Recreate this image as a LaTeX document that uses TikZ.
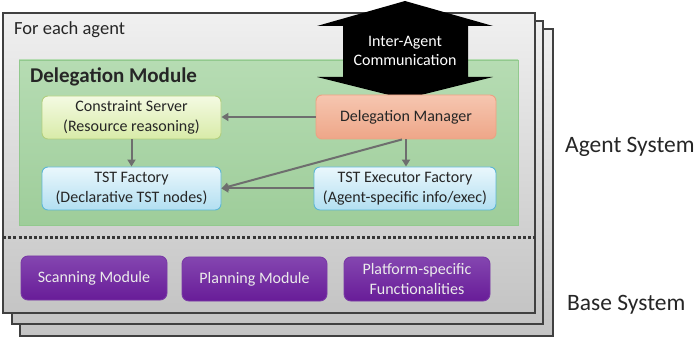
\documentclass[tikz,border=0pt]{standalone}
\usepackage{fontspec}
\setmainfont{Carlito}
\usetikzlibrary{arrows.meta}
\definecolor{framedraw}{HTML}{404040}
\definecolor{txt}{HTML}{262626}
\definecolor{arr}{HTML}{6E6E6E}
\definecolor{frametop}{HTML}{F0F0F0}
\definecolor{framebot}{HTML}{C4C4C4}
\definecolor{yellowgreen}{HTML}{B2CF7E}
\definecolor{yelltop}{HTML}{F4FAE2}
\definecolor{yellbot}{HTML}{D8EBA8}
\definecolor{bluedraw}{HTML}{5DB6D6}
\definecolor{bluetop}{HTML}{EAF7FC}
\definecolor{bluebot}{HTML}{B2DFF1}
\definecolor{reddraw}{HTML}{EDA282}
\definecolor{redtop}{HTML}{F6C6B0}
\definecolor{redbot}{HTML}{EEA688}
\definecolor{purpdraw}{HTML}{7A3AA6}
\definecolor{purptop}{HTML}{8446B0}
\definecolor{purpbot}{HTML}{681C98}
\definecolor{greentop}{HTML}{B6DCB3}
\definecolor{greenbot}{HTML}{9ECD9A}
\definecolor{greendraw}{HTML}{92C98E}
\tikzset{
  frame/.style={draw=framedraw, line width=1.2pt, top color=frametop, bottom color=framebot},
  box/.style={rounded corners=6pt, line width=0.9pt, align=center, text=txt,
              font=\fontsize{16}{20}\selectfont, inner sep=0pt},
  yellowbox/.style={box, draw=yellowgreen, top color=yelltop, bottom color=yellbot},
  bluebox/.style={box, draw=bluedraw, top color=bluetop, bottom color=bluebot},
  redbox/.style={box, draw=reddraw, top color=redtop, bottom color=redbot},
  purplebox/.style={box, draw=purpdraw, top color=purptop, bottom color=purpbot, text=white!92!black,
                    rounded corners=7pt},
  link/.style={draw=arr, line width=2pt, -{Triangle[width=8pt,length=7pt]}},
  lbl/.style={anchor=west, text=txt, inner sep=0pt},
}
\begin{document}
\begin{tikzpicture}[x=1pt,y=-1pt]
\useasboundingbox (0,0) rectangle (699,339);
% stacked frames
\draw[frame] (20,29) rectangle (553,336);
\draw[frame] (12,21) rectangle (543,324);
\draw[frame] (3,13) rectangle (535,313);
\node[lbl, font=\fontsize{18.5}{20}\selectfont] (fea) at (14,30) {For each agent};
% delegation module
\draw[draw=greendraw, line width=0.8pt, top color=greentop, bottom color=greenbot] (19,60) rectangle (518,225);
\node[lbl, font=\fontsize{21}{23}\selectfont\bfseries] (dmod) at (30,77) {Delegation Module};
% inter-agent communication arrow
\fill[black] (405,1) -- (493,26) -- (468,26) -- (468,77) -- (493,77) -- (405,99)
  -- (317,77) -- (343,77) -- (343,26) -- (317,26) -- cycle;
\node[align=center, text=white, font=\fontsize{16}{19}\selectfont] (iac) at (405,51) {Inter-Agent\\Communication};
% boxes
\node[yellowbox, minimum width=179pt, minimum height=43pt] (cs) at (131.5,117.5) {Constraint Server\\(Resource reasoning)};
\node[bluebox, minimum width=179pt, minimum height=43pt] (tstf) at (131.5,188.5) {TST Factory\\(Declarative TST nodes)};
\node[redbox, minimum width=180pt, minimum height=44pt] (dm) at (406,117) {Delegation Manager};
\node[bluebox, minimum width=182pt, minimum height=43pt] (tste) at (405,188.5) {TST Executor Factory\\(Agent-specific info/exec)};
% connectors
\draw[link] (dm.west) -- (cs.east |- dm.west);
\draw[link] (cs.south) -- (tstf.north);
\draw[link] (dm.south) -- (dm.south |- tste.north);
\draw[link] ([xshift=-4pt]dm.south) -- (tstf.east);
\draw[link] (tste.west) -- (tstf.east);
% separator
\coordinate (sepL) at (3,238);
\coordinate (sepR) at (535,238);
\draw[draw=framedraw!85!black, line width=3pt, dash pattern=on 3pt off 2.2pt] (sepL) -- (sepR);
% base modules
\node[purplebox, minimum width=146pt, minimum height=44pt] (scan) at (94,278) {Scanning Module};
\node[purplebox, minimum width=145pt, minimum height=44pt] (plan) at (254.5,279) {Planning Module};
\node[purplebox, minimum width=146pt, minimum height=44pt] (plat) at (417,279) {Platform-specific\\Functionalities};
% side labels
\node[lbl, font=\fontsize{23.5}{25}\selectfont] (as) at (565,147) {Agent System};
\node[lbl, font=\fontsize{23.5}{25}\selectfont] (bs) at (567,305) {Base System};
\end{tikzpicture}
\end{document}
